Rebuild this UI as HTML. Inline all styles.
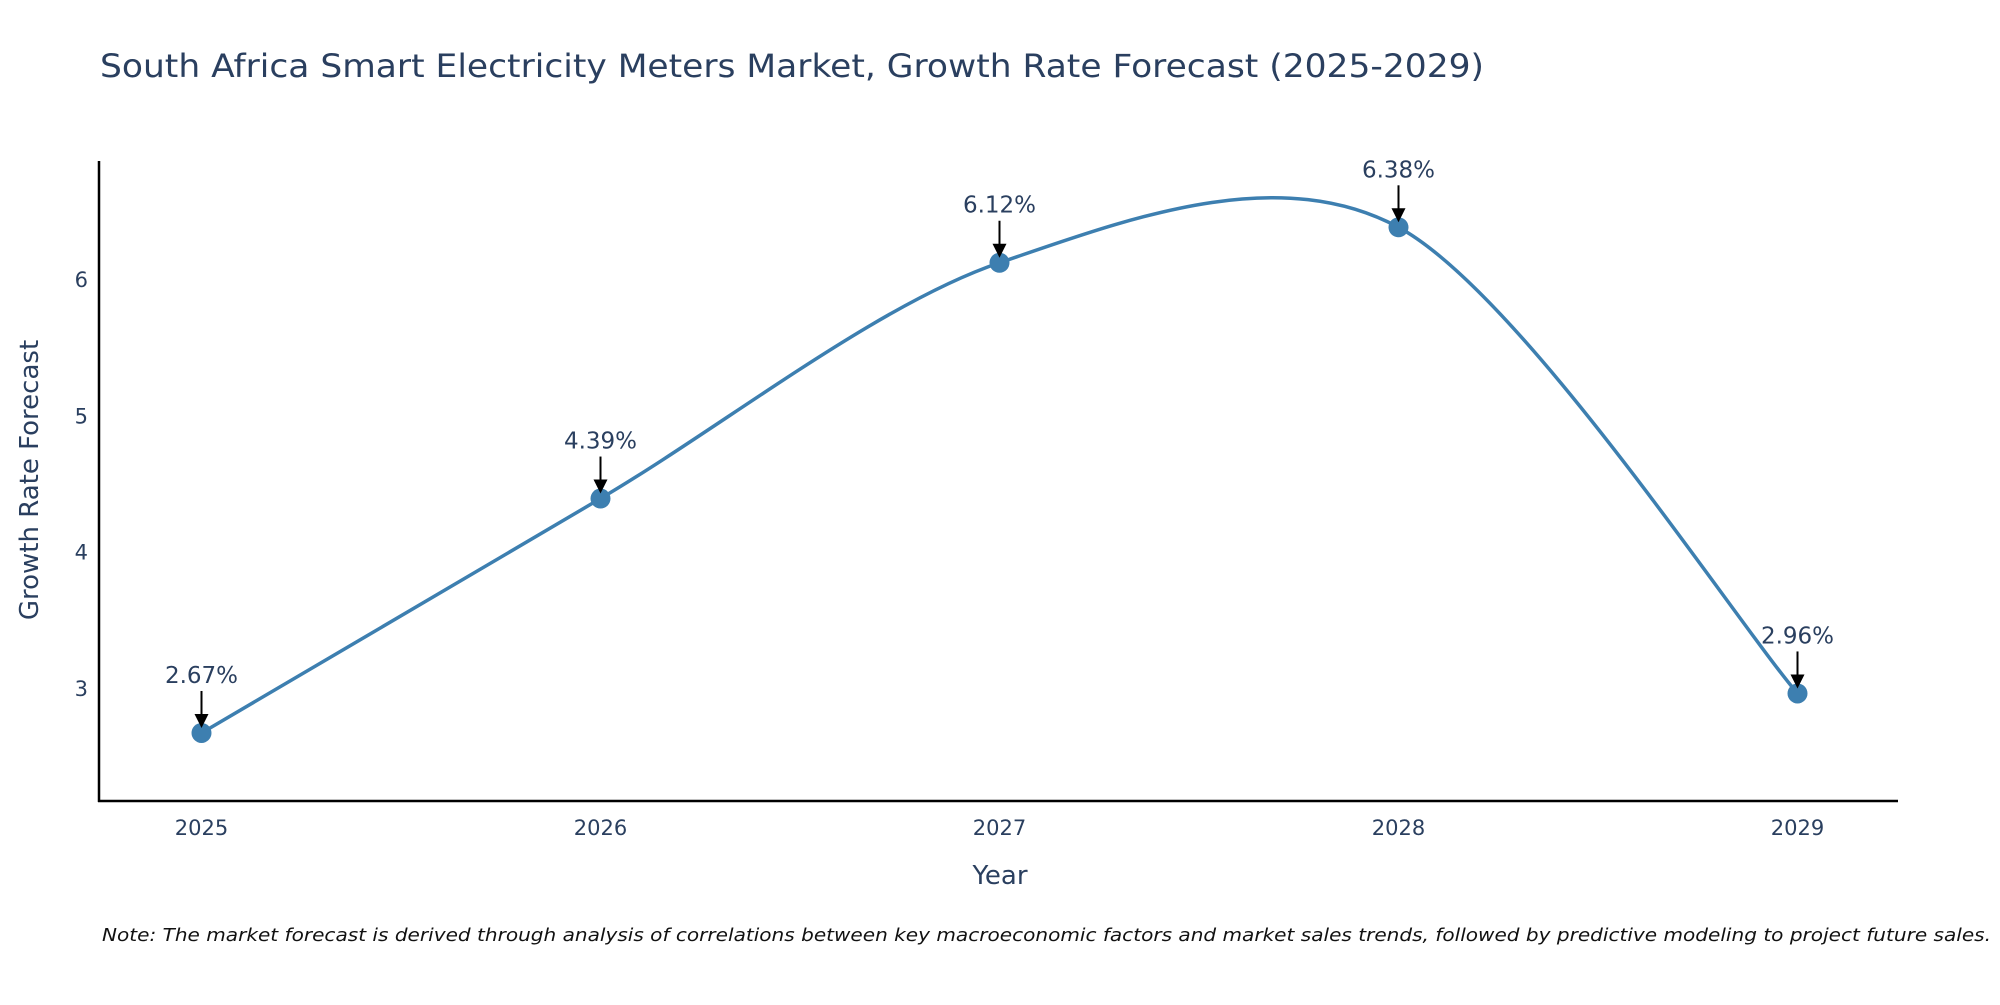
<!DOCTYPE html>
<html><head><meta charset="utf-8"><style>
body{margin:0;background:#fff;}
svg text{font-family:"DejaVu Sans","Liberation Sans",sans-serif;fill:#2a3f5f;}
</style></head><body>
<svg id="chart" width="2000" height="1000" xmlns="http://www.w3.org/2000/svg">
<text x="100" y="77" font-size="32" textLength="1384" lengthAdjust="spacingAndGlyphs">South Africa Smart Electricity Meters Market, Growth Rate Forecast (2025-2029)</text>
<g id="ticks"></g>
<line x1="99" y1="161" x2="99" y2="802" stroke="#000" stroke-width="2.5"/>
<line x1="98" y1="801" x2="1898" y2="801" stroke="#000" stroke-width="2.5"/>
<path id="line" fill="none" stroke="#3d7fb0" stroke-width="3.5"/>
<g id="marks"></g>
<text transform="translate(38,480) rotate(-90)" text-anchor="middle" font-size="26">Growth Rate Forecast</text>
<text x="1000" y="884" text-anchor="middle" font-size="26">Year</text>
<text x="102" y="941" font-size="18" font-style="italic" style="fill:#111" textLength="1889" lengthAdjust="spacingAndGlyphs">Note: The market forecast is derived through analysis of correlations between key macroeconomic factors and market sales trends, followed by predictive modeling to project future sales.</text>
</svg>
<script>
const years=[2025,2026,2027,2028,2029];
const values=[2.67,4.39,6.12,6.38,2.96];
const labels=["2.67%","4.39%","6.12%","6.38%","2.96%"];
const yTicks=[3,4,5,6];
const NS="http://www.w3.org/2000/svg";
const xs=v=>201.5+(v-2025)*399;
const ys=v=>688-(v-3)*136.3;
function mk(t,a,p){const e=document.createElementNS(NS,t);for(const k in a)e.setAttribute(k,a[k]);p.appendChild(e);return e;}
const tg=document.getElementById('ticks');
yTicks.forEach(t=>{const e=mk('text',{x:88,y:ys(t)+8,'text-anchor':'end','font-size':21},tg);


e.textContent=t;});
years.forEach(y=>{const e=mk('text',{x:xs(y),y:835,'text-anchor':'middle','font-size':21},tg);


e.textContent=y;});
const P=years.map((y,i)=>[xs(y),ys(values[i])]);
let d=`M${P[0][0]},${P[0][1]}`;
const k=6.5;
for(let i=0;i<P.length-1;i++){const p0=P[Math.max(0,i-1)],p1=P[i],p2=P[i+1],p3=P[Math.min(P.length-1,i+2)];
const c1=[p1[0]+(p2[0]-p0[0])/k,p1[1]+(p2[1]-p0[1])/k],c2=[p2[0]-(p3[0]-p1[0])/k,p2[1]-(p3[1]-p1[1])/k];
d+=` C${c1[0]},${c1[1]} ${c2[0]},${c2[1]} ${p2[0]},${p2[1]}`;}
document.getElementById('line').setAttribute('d',d);
const mg=document.getElementById('marks');
P.forEach((p,i)=>{const c=mk('circle',{cx:p[0],cy:p[1],r:10,fill:'#3d7fb0'},mg);


const a=mk('line',{x1:p[0],y1:p[1]-42,x2:p[0],y2:p[1]-16,stroke:'#000','stroke-width':2},mg);


const h=mk('polygon',{points:`${p[0]-7},${p[1]-19} ${p[0]+7},${p[1]-19} ${p[0]},${p[1]-5}`,fill:'#000'},mg);


const t=mk('text',{x:p[0],y:p[1]-50,'text-anchor':'middle','font-size':23},mg);


t.textContent=labels[i];});
</script>
</body></html>
